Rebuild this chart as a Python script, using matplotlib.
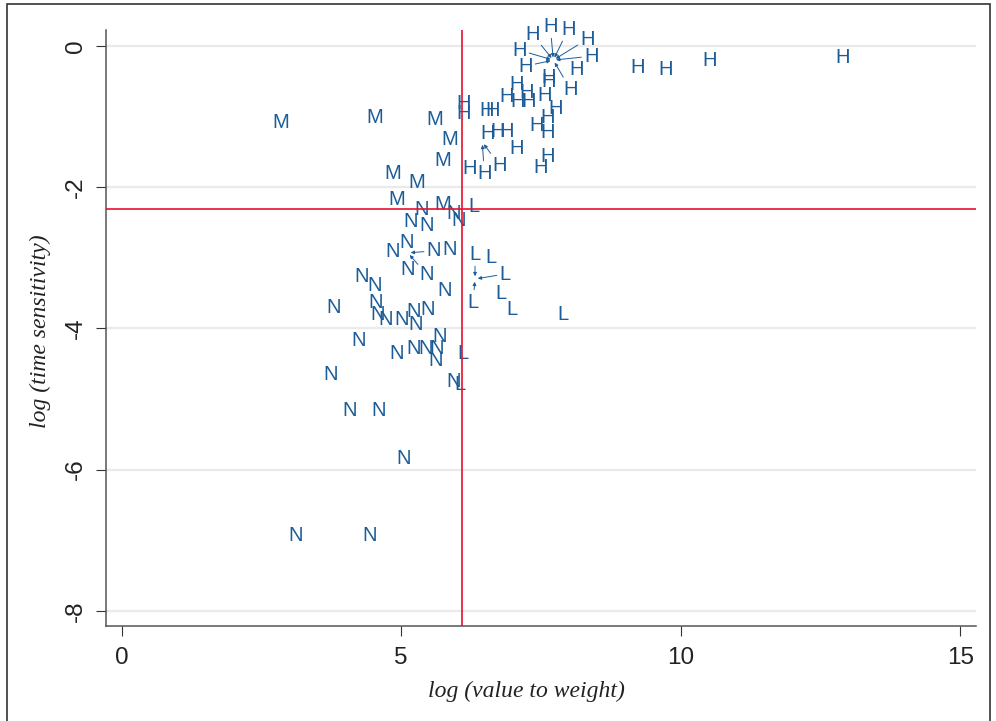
import matplotlib
matplotlib.use("Agg")
import matplotlib.pyplot as plt
from matplotlib.patches import Rectangle

# --- data: log(value to weight) vs log(time sensitivity), by product class ---
h_x = [6.12, 6.12, 6.52, 6.64, 6.89, 7.07, 7.09, 7.25, 7.27, 7.57, 7.63, 7.63,
       7.77, 8.13, 7.43, 7.61, 7.61, 6.55, 6.73, 6.88, 7.07, 7.61, 7.50, 6.23,
       9.22, 9.72, 10.52, 12.90,
       7.72, 7.72, 7.72, 7.72, 7.72, 7.72, 7.72, 7.72, 6.45, 6.45]
h_y = [-0.78, -0.93, -0.88, -0.88, -0.68, -0.51, -0.76, -0.63, -0.76, -0.67, -0.42, -0.48,
       -0.85, -0.30, -1.10, -0.99, -1.19, -1.21, -1.18, -1.18, -1.43, -1.54, -1.69, -1.70,
       -0.28, -0.30, -0.17, -0.13,
       -0.20, -0.20, -0.20, -0.20, -0.20, -0.20, -0.20, -0.20, -1.36, -1.36]

m_x = [2.85, 4.53, 5.60, 5.86, 5.75, 4.85, 5.28, 4.92, 5.75]
m_y = [-1.05, -0.98, -1.01, -1.29, -1.59, -1.78, -1.91, -2.14, -2.21]

n_x = [5.37, 5.16, 5.46, 5.93, 6.02, 5.10, 4.85, 5.86, 5.12, 5.78, 4.30, 4.53,
       3.80, 4.55, 4.57, 4.73, 5.00, 5.23, 5.26, 5.48, 4.23, 5.69, 4.92, 5.23,
       5.43, 5.64, 5.62, 5.93, 3.73, 4.08, 4.60, 5.05, 3.12, 4.44,
       5.12, 5.12]
n_y = [-2.29, -2.46, -2.51, -2.35, -2.44, -2.75, -2.88, -2.85, -3.13, -3.44, -3.24, -3.37,
       -3.67, -3.60, -3.77, -3.84, -3.84, -3.73, -3.91, -3.71, -4.14, -4.08, -4.33, -4.26,
       -4.26, -4.25, -4.42, -4.72, -4.62, -5.13, -5.13, -5.82, -6.91, -6.91,
       -2.93, -2.93]

l_x = [6.30, 6.61, 6.79, 6.98, 7.89, 6.11, 6.05, 6.32, 6.32, 6.32]
l_y = [-2.25, -2.97, -3.48, -3.71, -3.78, -4.33, -4.76, -3.30, -3.30, -3.30]

# cut-offs (red reference lines)
x_cut = 6.09
y_cut = -2.31

x_ticks = [0, 5, 10, 15]
y_ticks = [0, -2, -4, -6, -8]

# labels moved off crowded points (offset in pixels), drawn with an arrow
h_moved = {28: (-21, 28), 29: (-3, 36), 30: (15, 33), 31: (34, 23),
           32: (-34, 12), 33: (38, 6), 34: (-28, -4), 35: (17, -27),
           36: (2, -29), 37: (17, -21)}
n_moved = {34: (26, 4), 35: (19, -20)}
l_moved = {7: (0, 27), 8: (30, 7), 9: (-2, -21)}

BLUE = "#1c5d99"
RED = "#e8112d"
LABEL_SIZE = 14.5

plt.rcParams["font.family"] = ["Liberation Sans", "DejaVu Sans"]

fig = plt.figure(figsize=(9.96, 7.21), dpi=100)
ax = fig.add_axes([106 / 996, 1 - 626 / 721, 870 / 996, 596 / 721])

ax.set_xlim(-0.28, 15.28)
ax.set_ylim(-8.215, 0.227)


def put_labels(xs, ys, letter, moved):
    for i, (x, y) in enumerate(zip(xs, ys)):
        if i in moved:
            ax.annotate(letter, xy=(x, y), xytext=moved[i], textcoords="offset pixels",
                        ha="center", va="center_baseline", fontsize=LABEL_SIZE, color=BLUE,
                        bbox=dict(boxstyle="square,pad=0.0", fc="none", ec="none"),
                        arrowprops=dict(arrowstyle="-|>", color=BLUE, lw=0.7,
                                        mutation_scale=5, shrinkA=2, shrinkB=2))
        else:
            ax.text(x, y, letter, ha="center", va="center_baseline",
                    fontsize=LABEL_SIZE, color=BLUE)


put_labels(h_x, h_y, "H", h_moved)
put_labels(m_x, m_y, "M", {})
put_labels(n_x, n_y, "N", n_moved)
put_labels(l_x, l_y, "L", l_moved)

ax.axvline(x_cut, color=RED, lw=1.2, zorder=3)
ax.axhline(y_cut, color=RED, lw=1.2, zorder=3)

ax.set_xticks(x_ticks)
ax.set_yticks(y_ticks)
ax.set_yticklabels([str(v) for v in y_ticks], rotation=90, va="center")
ax.grid(axis="y", color="#eaeaea", lw=1.6, zorder=0)
ax.grid(axis="x", visible=False)
ax.set_axisbelow(True)

for side in ["top", "right"]:
    ax.spines[side].set_visible(False)
for side in ["left", "bottom"]:
    ax.spines[side].set_color("#555555")
    ax.spines[side].set_linewidth(1.1)

ax.tick_params(axis="both", length=7, width=0.8, color="#333333",
               labelsize=17.5, labelcolor="#222222")
ax.tick_params(axis="x", pad=8)
ax.tick_params(axis="y", pad=7)

fig.text(526 / 996, 1 - 691 / 721, "log (value to weight)", ha="center", va="center",
         family="Liberation Serif", style="italic", fontsize=17, color="#222222")
fig.text(40 / 996, 1 - 331 / 721, "log (time sensitivity)", ha="center", va="center",
         rotation=90, family="Liberation Serif", style="italic", fontsize=17, color="#222222")

# outer frame around the graph region
fig.add_artist(Rectangle((7 / 996, -0.01), 983 / 996, 1 - 4 / 721 + 0.01,
                         transform=fig.transFigure, fill=False, ec="#333333", lw=1.2))

fig.savefig("out.png", dpi=100)
